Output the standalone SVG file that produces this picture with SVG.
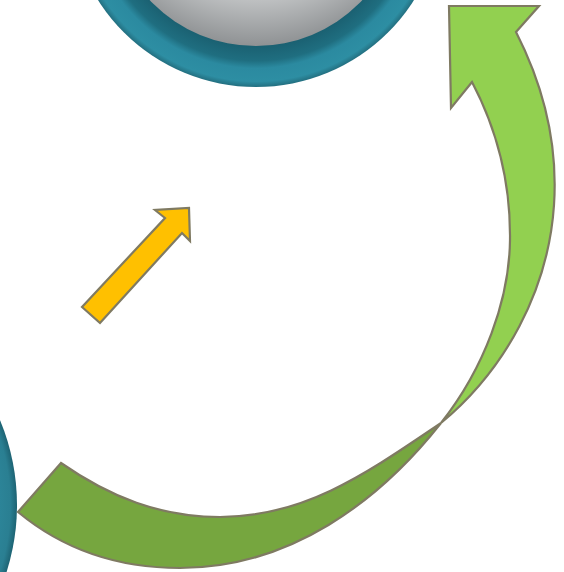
<svg xmlns="http://www.w3.org/2000/svg" width="564" height="572" viewBox="0 0 564 572">
<defs>
<radialGradient id="grey" cx="0.5" cy="0.35" r="0.65">
<stop offset="0" stop-color="#eceeef"/>
<stop offset="0.7" stop-color="#c9cbcc"/>
<stop offset="1" stop-color="#8f9294"/>
</radialGradient>
<radialGradient id="ring" cx="0.5" cy="0.5" r="0.5">
<stop offset="0.77" stop-color="#1a5f70"/>
<stop offset="0.86" stop-color="#1f6e80"/>
<stop offset="0.9" stop-color="#2b8aa0"/>
<stop offset="0.97" stop-color="#2d8ea3"/>
<stop offset="1" stop-color="#236f80"/>
</radialGradient>
<radialGradient id="leftc" cx="0.5" cy="0.5" r="0.5">
<stop offset="0.85" stop-color="#2f8ca1"/>
<stop offset="0.97" stop-color="#2a7f92"/>
<stop offset="1" stop-color="#1d6373"/>
</radialGradient>
<style>
.arw{stroke:#7f7a62;stroke-width:2.2;stroke-linejoin:miter}
</style>
</defs>
<g id="top-circle">
<circle cx="256" cy="-100" r="187" fill="url(#ring)"/>
<circle cx="256" cy="-100" r="146" fill="url(#grey)"/>
</g>
<g id="left-circle">
<circle cx="-204" cy="505" r="221" fill="url(#leftc)"/>
</g>
<g id="connectors">
<g id="yellow-arrow">
<path class="arw" fill="#ffc000" d="M82,307 L165,218 L155,210 L189,208 L190,241 L182,233 L100,323 Z"/>
</g>
<g id="green-arrow">
<path class="arw" fill="#76a63f" d="M18,512 L61,463 C110.2,497.2 160,517 220,517 C306,517 369.6,471.2 441,423 C379,501.5 290,568 180,568 C120,568 64.2,550.4 18,512 Z"/>
<path class="arw" fill="#92d050" d="M441,423 C505,370 548.3,290.7 554,205 C558,144.7 543.5,85.8 516,32 L539,6 L449,6 L451,108 L472,82 C497.5,130.6 510.7,185.1 510,240 C509.3,300 484.4,368 441,423 Z"/>
</g>
</g>
</svg>
